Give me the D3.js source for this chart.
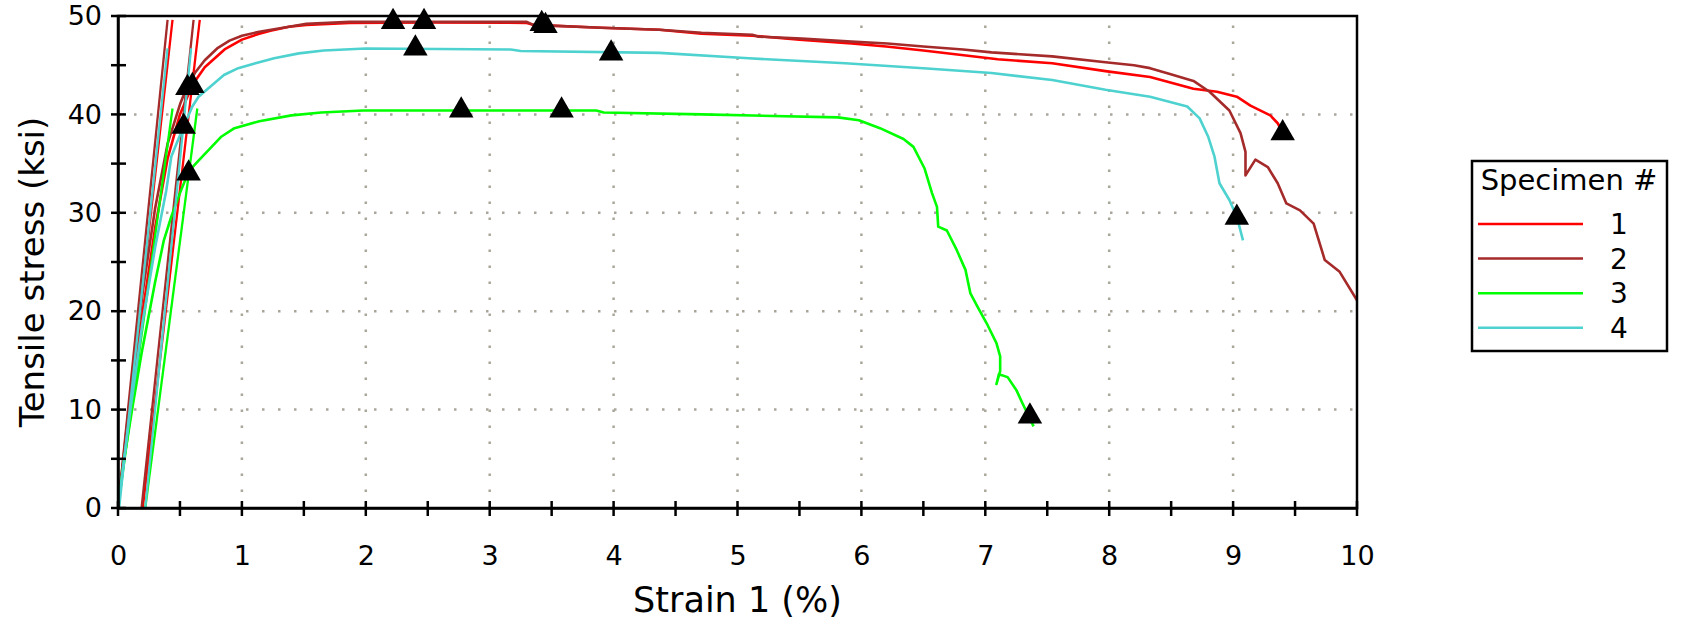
<!DOCTYPE html>
<html>
<head>
<meta charset="utf-8">
<script src="https://cdn.jsdelivr.net/npm/d3@7"></script>
<style>
body { margin: 0; background: #fff; }
svg { font-family: "DejaVu Sans", Verdana, sans-serif; }
</style>
</head>
<body>
<div id="chart"></div>
<script>
// stress-strain curves, [strain %, stress ksi]
var spec1 = [[0,0],[0.1,10.5],[0.2,20],[0.3,28.5],[0.4,35.5],[0.5,40],[0.6,43],[0.7,44.8],[0.86,46.6],[1.0,47.6],[1.14,48.2],[1.23,48.5],[1.38,48.9],[1.52,49.1],[1.87,49.3],[2.5,49.35],[3.3,49.3],[3.35,49.1],[3.9,48.8],[4.37,48.6],[4.71,48.2],[5.12,48.0],[5.5,47.6],[5.92,47.2],[6.2,46.9],[6.5,46.5],[7.1,45.6],[7.54,45.2],[7.97,44.4],[8.33,43.8],[8.68,42.6],[8.87,42.3],[9.03,41.8],[9.14,40.9],[9.30,39.9],[9.36,39.1],[9.40,38.2]];
var spec2 = [[0,0],[0.1,11.5],[0.2,22],[0.3,30.5],[0.4,37],[0.5,41],[0.55,42.6],[0.62,44.2],[0.7,45.5],[0.8,46.7],[0.9,47.5],[1.0,48.0],[1.14,48.4],[1.38,48.9],[1.52,49.2],[1.87,49.4],[3.3,49.4],[3.35,49.1],[3.9,48.8],[4.37,48.6],[4.71,48.3],[5.12,48.1],[5.17,47.9],[5.52,47.7],[5.92,47.4],[6.21,47.2],[6.5,46.9],[6.82,46.6],[7.05,46.3],[7.54,45.9],[7.97,45.3],[8.2,45.0],[8.33,44.7],[8.49,44.1],[8.68,43.4],[8.81,42.3],[8.97,40.4],[9.06,38.1],[9.10,36.2],[9.10,33.8],[9.18,35.4],[9.28,34.65],[9.36,33.0],[9.43,30.95],[9.54,30.25],[9.65,28.9],[9.74,25.2],[9.86,24.0],[10.0,21.1]];
var spec3 = [[0,0],[0.05,5],[0.12,10.5],[0.19,15.7],[0.3,23],[0.37,27.2],[0.43,29.6],[0.5,32],[0.57,34.2],[0.65,35.3],[0.74,36.5],[0.83,37.7],[0.94,38.6],[1.14,39.3],[1.40,39.9],[1.64,40.2],[1.98,40.4],[3.86,40.4],[3.92,40.2],[4.71,40.0],[5.81,39.7],[5.98,39.4],[6.15,38.6],[6.34,37.5],[6.42,36.7],[6.51,34.5],[6.57,32.0],[6.61,30.6],[6.62,28.6],[6.69,28.2],[6.77,26.2],[6.84,24.2],[6.88,21.8],[6.94,20.4],[7.01,18.8],[7.09,16.75],[7.12,15.4],[7.12,13.9],[7.09,12.6],[7.11,13.6],[7.18,13.3],[7.25,12.0],[7.30,10.65],[7.39,8.3]];
var spec4 = [[0,0],[0.1,10],[0.2,19],[0.3,26.5],[0.39,32.3],[0.43,35.7],[0.51,38.2],[0.6,40.8],[0.65,41.8],[0.77,43.1],[0.855,44.0],[0.97,44.7],[1.14,45.3],[1.26,45.7],[1.46,46.2],[1.66,46.5],[2.0,46.7],[3.17,46.6],[3.25,46.45],[4.37,46.25],[5.09,45.7],[5.87,45.2],[6.53,44.66],[7.05,44.2],[7.54,43.5],[7.97,42.5],[8.33,41.8],[8.63,40.8],[8.73,39.6],[8.80,37.7],[8.85,35.7],[8.89,33.0],[8.97,31.3],[9.03,29.6],[9.08,27.2]];

// modulus lines through origin and at 0.2% offset
var modLine1 = [[0, 0], [0.44, 49.6]], offLine1 = [[0.2, 0], [0.66, 49.6]];
var modLine2 = [[0, 0], [0.40, 49.6]], offLine2 = [[0.19, 0], [0.61, 49.6]];
var modLine3 = [[0, 0], [0.44, 40.6]], offLine3 = [[0.22, 0], [0.64, 40.6]];
var modLine4 = [[0.01, 0], [0.40, 46.7]], offLine4 = [[0.22, 0], [0.59, 46.7]];

// triangle markers
var marks1 = [[0.60, 42.9], [2.22, 49.4], [3.45, 49.0], [9.40, 38.1]];
var marks2 = [[0.56, 42.7], [2.47, 49.4], [3.42, 49.2]];
var marks3 = [[0.57, 34.0], [2.77, 40.4], [3.58, 40.4], [7.36, 9.3]];
var marks4 = [[0.53, 38.75], [2.40, 46.7], [3.98, 46.2], [9.03, 29.5]];

var specimenNames = ['1', '2', '3', '4'];
var xTickLabels = [0, 1, 2, 3, 4, 5, 6, 7, 8, 9, 10];
var yTickLabels = [0, 10, 20, 30, 40, 50];

var colors = ['#ff0000', '#a52a2a', '#00ff00', '#4dd2cf'];

var width = 1683, height = 624;
var margin = { top: 16, left: 118, right: 326, bottom: 116 };

var svg = d3.select('#chart').append('svg')
	.attr('width', width)
	.attr('height', height);

var x = d3.scaleLinear().domain([0, 10]).range([margin.left, width - margin.right]);
var y = d3.scaleLinear().domain([0, 50]).range([height - margin.bottom, margin.top]);

svg.append('clipPath').attr('id', 'clip')
	.append('rect')
	.attr('x', x(0)).attr('y', y(50))
	.attr('width', x(10) - x(0)).attr('height', y(0) - y(50));

// dotted grid
var grid = svg.append('g').attr('stroke', '#aaa69a').attr('stroke-width', 2.5).attr('stroke-dasharray', '2.5,13.5');
grid.selectAll('.vg').data(xTickLabels.slice(1, -1)).join('line')
	.attr('x1', d => x(d)).attr('x2', d => x(d))
	.attr('y1', y(0)).attr('y2', y(50));
grid.selectAll('.hg').data(yTickLabels.slice(1, -1)).join('line')
	.attr('y1', d => y(d)).attr('y2', d => y(d))
	.attr('x1', x(0)).attr('x2', x(10));

var line = d3.line().x(d => x(d[0])).y(d => y(d[1]));

var curves = [spec1, spec2, spec3, spec4];
var straight = [[modLine1, offLine1], [modLine2, offLine2], [modLine3, offLine3], [modLine4, offLine4]];
var marks = [marks1, marks2, marks3, marks4];

var plot = svg.append('g').attr('clip-path', 'url(#clip)');

curves.forEach(function(c, i) {
	straight[i].forEach(function(l) {
		plot.append('path').datum(l)
			.attr('d', line)
			.attr('fill', 'none')
			.attr('stroke', colors[i])
			.attr('stroke-width', 2.3);
	});
	plot.append('path').datum(c)
		.attr('d', line)
		.attr('fill', 'none')
		.attr('stroke', colors[i])
		.attr('stroke-width', 2.6)
		.attr('stroke-linejoin', 'round');
});

var tri = d3.symbol().type(d3.symbolTriangle).size(260);
marks.forEach(function(m) {
	svg.append('g').selectAll('path').data(m).join('path')
		.attr('d', tri)
		.attr('transform', d => 'translate(' + x(d[0]) + ',' + y(d[1]) + ')')
		.attr('fill', 'black');
});

// frame
svg.append('rect')
	.attr('x', x(0)).attr('y', y(50))
	.attr('width', x(10) - x(0)).attr('height', y(0) - y(50))
	.attr('fill', 'none').attr('stroke', 'black').attr('stroke-width', 2.5);

// axes, labels only; ticks drawn crossing the axis below
var xAxis = svg.append('g')
	.attr('transform', 'translate(0,' + y(0) + ')')
	.call(d3.axisBottom(x).tickValues(xTickLabels).tickSize(0).tickPadding(38));
var yAxis = svg.append('g')
	.attr('transform', 'translate(' + x(0) + ',0)')
	.call(d3.axisLeft(y).tickValues(yTickLabels).tickSize(0).tickPadding(16));
[xAxis, yAxis].forEach(function(a) {
	a.select('.domain').attr('stroke', 'black').attr('stroke-width', 2.5);
	a.selectAll('text').attr('font-size', 27).attr('fill', 'black')
		.style('font-family', '"DejaVu Sans", Verdana, sans-serif');
});

var ticks = svg.append('g').attr('stroke', 'black').attr('stroke-width', 2.5);
ticks.selectAll('.xt').data(d3.range(0, 10.01, 0.5)).join('line')
	.attr('x1', d => x(d)).attr('x2', d => x(d))
	.attr('y1', y(0) - 7).attr('y2', y(0) + 8);
ticks.selectAll('.yt').data(d3.range(0, 50.01, 5)).join('line')
	.attr('y1', d => y(d)).attr('y2', d => y(d))
	.attr('x1', x(0) - 7).attr('x2', x(0) + 8);

// axis titles
svg.append('text')
	.attr('x', (x(0) + x(10)) / 2).attr('y', 612)
	.attr('text-anchor', 'middle')
	.attr('font-size', 35)
	.text('Strain 1 (%)');
svg.append('text')
	.attr('transform', 'translate(44,272) rotate(-90)')
	.attr('text-anchor', 'middle')
	.attr('font-size', 34)
	.text('Tensile stress (ksi)');

// legend
var legend = svg.append('g').attr('transform', 'translate(1472,161)');
legend.append('rect')
	.attr('width', 195).attr('height', 190)
	.attr('fill', 'white').attr('stroke', 'black').attr('stroke-width', 2.5);
legend.append('text')
	.attr('x', 97).attr('y', 29)
	.attr('text-anchor', 'middle')
	.attr('font-size', 29)
	.text('Specimen #');
specimenNames.forEach(function(n, i) {
	var ly = 63 + i * 34.6;
	legend.append('line')
		.attr('x1', 6).attr('x2', 111)
		.attr('y1', ly).attr('y2', ly)
		.attr('stroke', colors[i]).attr('stroke-width', 2.5);
	legend.append('text')
		.attr('x', 147).attr('y', ly)
		.attr('dy', '0.36em')
		.attr('text-anchor', 'middle')
		.attr('font-size', 28)
		.text(n);
});
</script>
</body>
</html>
